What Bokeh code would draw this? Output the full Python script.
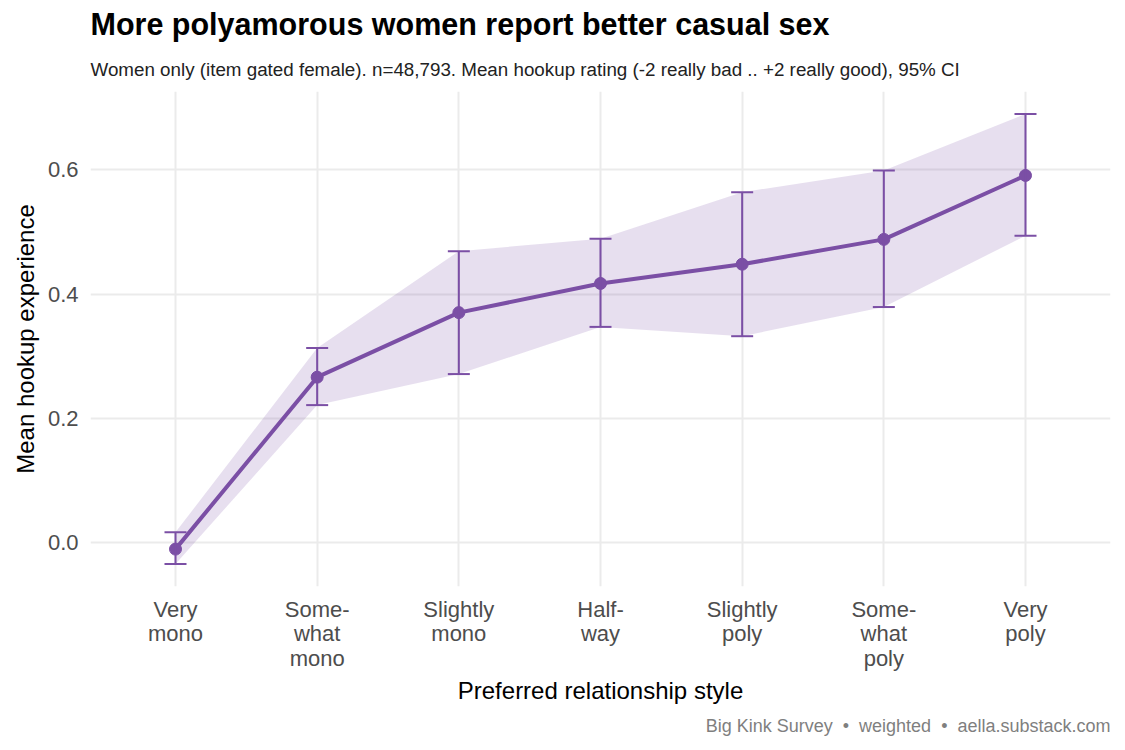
from bokeh.plotting import figure
from bokeh.models import (ColumnDataSource, Range1d, FixedTicker, Whisker, TeeHead, Title)
from bokeh.embed import file_html
from bokeh.resources import INLINE

# Mean hookup rating by preferred relationship style (women only), with 95% CI
categories = ["Very\nmono", "Some-\nwhat\nmono", "Slightly\nmono", "Half-\nway",
              "Slightly\npoly", "Some-\nwhat\npoly", "Very\npoly"]
mean_rating = [-0.011, 0.266, 0.370, 0.417, 0.448, 0.488, 0.591]
ci_low = [-0.035, 0.221, 0.271, 0.347, 0.332, 0.379, 0.494]
ci_high = [0.016, 0.313, 0.469, 0.489, 0.564, 0.599, 0.690]
y_ticks = [0.0, 0.2, 0.4, 0.6]

PURPLE = "#7B4FA5"
FONT = "Liberation Sans"

positions = list(range(1, len(categories) + 1))
src = ColumnDataSource(dict(x=positions, mean=mean_rating, lo=ci_low, hi=ci_high))

span = max(ci_high) - min(ci_low)
y_lo = min(ci_low) - 0.05 * span
y_hi = max(ci_high) + 0.05 * span

p = figure(width=1125, height=750, output_backend="svg", toolbar_location=None,
           x_range=Range1d(0.4, len(categories) + 0.6), y_range=Range1d(y_lo, y_hi),
           min_border_left=90, min_border_right=15, min_border_top=17,
           min_border_bottom=0)
p.outline_line_color = None
p.background_fill_color = "white"
p.border_fill_color = "white"

# confidence ribbon, error bars, mean line and points
p.varea(x="x", y1="lo", y2="hi", source=src, fill_color=PURPLE, fill_alpha=0.18)
whisk = Whisker(base="x", lower="lo", upper="hi", source=src, dimension="height",
                line_color=PURPLE, line_width=2,
                upper_head=TeeHead(size=22, line_color=PURPLE, line_width=2),
                lower_head=TeeHead(size=22, line_color=PURPLE, line_width=2),
                level="glyph")
p.add_layout(whisk)
p.line(x="x", y="mean", source=src, line_color=PURPLE, line_width=4)
p.scatter(x="x", y="mean", source=src, size=12, fill_color=PURPLE, line_color=PURPLE)

# axes
p.xaxis.ticker = FixedTicker(ticks=positions)
p.xaxis.major_label_overrides = {pos: lab for pos, lab in zip(positions, categories)}
p.yaxis.ticker = FixedTicker(ticks=y_ticks)
p.yaxis.major_label_overrides = {t: f"{t:.1f}" for t in y_ticks}
for ax in (p.xaxis[0], p.yaxis[0]):
    ax.axis_line_color = None
    ax.major_tick_line_color = None
    ax.minor_tick_line_color = None
    ax.major_tick_out = 0
    ax.major_tick_in = 0
    ax.major_label_text_font = FONT
    ax.major_label_text_font_size = "22px"
    ax.major_label_text_color = "#4D4D4D"
    ax.axis_label_text_font = FONT
    ax.axis_label_text_font_size = "24px"
    ax.axis_label_text_font_style = "normal"
    ax.axis_label_text_color = "black"
p.xaxis.axis_label = "Preferred relationship style"
p.yaxis.axis_label = "Mean hookup experience"
p.xaxis.major_label_standoff = 10
p.yaxis.major_label_standoff = 12
p.xaxis.axis_label_standoff = 3
p.yaxis.axis_label_standoff = 6
p.xaxis.major_label_text_line_height = 0.98

p.xgrid.ticker = FixedTicker(ticks=positions)
p.ygrid.ticker = FixedTicker(ticks=y_ticks)
for g in (p.xgrid[0], p.ygrid[0]):
    g.grid_line_color = "#EBEBEB"
    g.grid_line_width = 2

# subtitle sits nearest the frame, title above it; caption below the x axis
p.add_layout(Title(text="Women only (item gated female). n=48,793. Mean hookup rating "
                        "(-2 really bad .. +2 really good), 95% CI",
                   align="left", text_font=FONT, text_font_size="18.8px",
                   text_font_style="normal", text_color="#222222", standoff=24), "above")
p.add_layout(Title(text="More polyamorous women report better casual sex",
                   align="left", text_font=FONT, text_font_size="30.5px",
                   text_font_style="bold", text_color="black", standoff=8), "above")
p.add_layout(Title(text="Big Kink Survey \u00a0\u2022\u00a0 weighted \u00a0\u2022\u00a0 aella.substack.com",
                   align="right", text_font=FONT, text_font_size="18px",
                   text_font_style="normal", text_color="#7F7F7F", standoff=14), "below")
# blank strip under the caption
p.add_layout(Title(text=" ", text_font_size="5px", standoff=0), "below")

open("out.html", "w").write(file_html(p, INLINE))
